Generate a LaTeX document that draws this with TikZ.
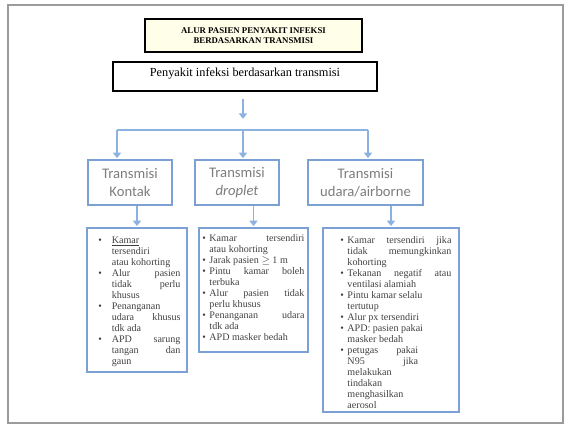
\documentclass[tikz,border=0pt]{standalone}
\usepackage{fontspec}
\setmainfont{Liberation Serif}
\newfontfamily\kotakfont{Carlito}
\usetikzlibrary{arrows.meta}

\definecolor{bingkaiabu}{RGB}{155,155,155}
\definecolor{krem}{RGB}{255,254,232}
\definecolor{birugaris}{RGB}{122,160,212}
\definecolor{birupanah}{RGB}{140,178,225}
\definecolor{teksabu}{RGB}{125,125,125}
\definecolor{teksgelap}{RGB}{65,65,65}

\newlength{\indentbutir}
\newcommand{\butir}[1]{\par\hangindent=\indentbutir\hangafter=1\noindent\makebox[\indentbutir][l]{\textbullet}#1\par}

\tikzset{
  judul/.style={draw=black, line width=1.8pt, fill=krem, align=center, inner sep=0pt,
    font=\fontsize{7.5}{9}\selectfont\bfseries},
  pokok/.style={draw=black, line width=1.8pt, fill=white, inner sep=0pt,
    font=\fontsize{10.5}{12}\selectfont},
  jenis/.style={draw=birugaris, line width=1.3pt, align=center, text=teksabu, inner sep=0pt,
    minimum height=1.35cm, font=\kotakfont\fontsize{12.5}{15.5}\selectfont},
  daftar/.style={draw=birugaris, line width=1.3pt, inner sep=0pt},
  isi/.style={inner sep=0pt, text=teksgelap, align=justify, anchor=north west,
    font=\fontsize{8.6}{9.4}\selectfont},
  garis/.style={draw=birupanah, line width=1.4pt},
  panah/.style={garis, ->, shorten >=1pt}
}

\begin{document}
\begin{tikzpicture}[x=0.03cm, y=-0.03cm, >={Triangle[length=1.6mm, width=2.4mm]}]
        \useasboundingbox (0,0) rectangle (566,427);
        \draw[bingkaiabu, line width=1.5pt] (8,5) rectangle (563,423);

        % Headings
        \node[judul, minimum width=6.51cm, minimum height=0.99cm] (judul) at (253.5,35.5)
            {ALUR PASIEN PENYAKIT INFEKSI\\BERDASARKAN TRANSMISI};
        \node[pokok, minimum width=7.92cm, text height=0.435cm, text depth=0.435cm] (pokok) at (245,76.5)
            {Penyakit infeksi berdasarkan transmisi};

        % Transmission types
        \node[jenis, minimum width=2.52cm] (kontak) at (130,182.5) {Transmisi\\Kontak};
        \node[jenis, minimum width=2.52cm] (droplet) at (237,182.5) {Transmisi\\\textit{droplet}};
        \node[jenis, minimum width=3.45cm] (udara) at (365.5,182.5) {Transmisi\\udara/airborne};

        % Lists
        \node[daftar, minimum width=3cm, minimum height=4.32cm] (daftarKontak) at (137,300) {};
        \node[daftar, minimum width=3.27cm, minimum height=3.72cm] (daftarDroplet) at (253.5,290) {};
        \node[daftar, minimum width=4.08cm, minimum height=5.52cm] (daftarUdara) at (391,320) {};

        \node[isi, text width=2.46cm] (isiKontak) at ([shift={(12,5)}]daftarKontak.north west) {%
            \setlength{\indentbutir}{0.4cm}%
            \butir{\underline{Kamar}\\ tersendiri\\ atau kohorting}
            \butir{Alur pasien\linebreak tidak perlu\linebreak khusus}
            \butir{Penanganan\\ udara khusus\linebreak tdk ada}
            \butir{APD sarung\linebreak tangan dan\linebreak gaun}};
        \node[isi, text width=3.06cm] (isiDroplet) at ([shift={(4,3)}]daftarDroplet.north west) {%
            \setlength{\indentbutir}{0.21cm}%
            \butir{Kamar tersendiri\linebreak atau kohorting}
            \butir{Jarak pasien $\geq$ 1 m}
            \butir{Pintu kamar boleh\linebreak terbuka}
            \butir{Alur pasien tidak\linebreak perlu khusus}
            \butir{Penanganan udara\linebreak tdk ada}
            \butir{APD masker bedah}};
        \node[isi, text width=3.33cm] (isiUdara) at ([shift={(18,5)}]daftarUdara.north west) {%
            \setlength{\indentbutir}{0.21cm}%
            \butir{Kamar tersendiri jika\linebreak tidak memungkinkan\linebreak kohorting}
            \butir{Tekanan negatif atau\linebreak ventilasi alamiah}
            \butir{Pintu kamar selalu\\ tertutup}
            \butir{Alur px tersendiri}
            \butir{APD: pasien pakai\\ masker bedah}
            {\rightskip=1cm\relax
            \butir{petugas pakai\linebreak N95 jika\linebreak melakukan\\ tindakan\\ menghasilkan\\ aerosol}}};

        % Arrows
        \coordinate (ujungAtas) at (243,120);
        \coordinate (cabKiri) at (117,130);
        \coordinate (cabTengah) at (243,130);
        \coordinate (cabKanan) at (368,130);
        \draw[panah, shorten <=0.2cm] (pokok.south -| ujungAtas) -- (ujungAtas);
        \draw[garis] (cabKiri) -- (cabKanan);
        \draw[panah] (cabKiri) -- (cabKiri |- kontak.north);
        \draw[panah] (cabTengah) -- (cabTengah |- droplet.north);
        \draw[panah] (cabKanan) -- (cabKanan |- udara.north);
        \draw[panah] (kontak.south -| daftarKontak.north) -- (daftarKontak.north);
        \draw[panah] (droplet.south -| daftarDroplet.north) -- (daftarDroplet.north);
        \draw[panah] (udara.south -| daftarUdara.north) -- (daftarUdara.north);
    \end{tikzpicture}
\end{document}
